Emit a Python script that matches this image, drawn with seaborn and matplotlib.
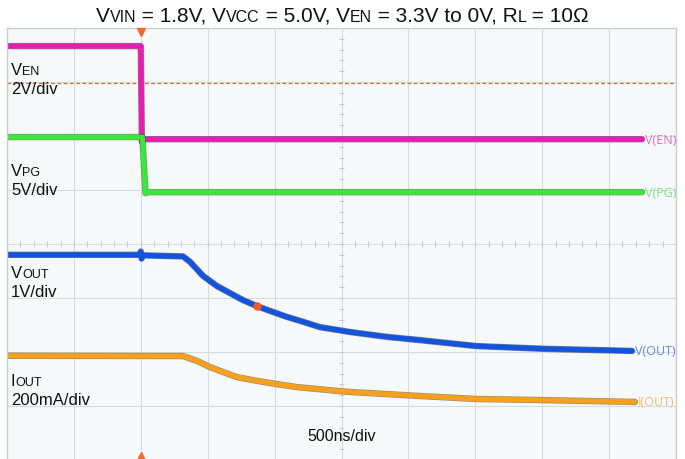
import numpy as np
import pandas as pd
import matplotlib
matplotlib.use('Agg')
import matplotlib.pyplot as plt
import matplotlib.patheffects as pe
from matplotlib.offsetbox import TextArea, HPacker, VPacker, AnnotationBbox
import seaborn as sns

# scope time base: 500 ns/div, trigger sits on the 2nd division
T_START, T_END, NS_PER_DIV = -1000, 4000, 500

# traces (time in ns)
ven_t = [-1000, 0, 8, 30, 3746]
ven_v = [3.45, 3.45, -0.1, 0.0, 0.0]

pg_t = [-1000, 12, 35, 50, 3746]
pg_v = [5.1, 5.1, -0.1, 0.0, 0.0]

vout_t = [-1000, -5, 0, 6, 16, 315, 368, 465, 570, 667, 764, 868, 966,
          1093, 1212, 1339, 1466, 1564, 1840, 2087, 2505, 3006, 3671]
vout_v = [1.83, 1.83, 1.89, 1.76, 1.82, 1.80, 1.70, 1.44, 1.25, 1.12, 0.99,
          0.88, 0.79, 0.68, 0.59, 0.49, 0.44, 0.40, 0.31, 0.25, 0.14, 0.09, 0.05]

iout_t = [-1000, 315, 420, 517, 614, 719, 868, 1018, 1167, 1317, 1466,
          1564, 2087, 2505, 3006, 3693]
iout_ma = [180, 179, 161, 138, 120, 101, 87, 75, 64, 57, 50, 46, 31, 20, 16, 9]

trigger_level_v = 2.1      # on V(EN)
cursor_t = 868             # marker on V(OUT)

# channel setup: units per division and ground position (divisions)
channels = {
    'V(EN)':  dict(t=ven_t, y=ven_v, per_div=2.0, ground=1.94,
                   color='#e21fae', edge='#6a0e55', label_color='#e070c8'),
    'V(PG)':  dict(t=pg_t, y=pg_v, per_div=5.0, ground=0.96,
                   color='#3ae83a', edge='#1a5c1a', label_color='#86e086'),
    'V(OUT)': dict(t=vout_t, y=vout_v, per_div=1.0, ground=-2.03,
                   color='#1454dc', edge='#0a2260', label_color='#6a88d8'),
    'I(OUT)': dict(t=iout_t, y=iout_ma, per_div=200.0, ground=-2.97,
                   color='#f6a11e', edge='#6a4410', label_color='#f0c070'),
}


def to_div(ch, values):
    return ch['ground'] + np.asarray(values, dtype=float) / ch['per_div']


sns.set_style('white')
plt.rcParams['font.family'] = ['Liberation Sans', 'DejaVu Sans']

fig = plt.figure(figsize=(6.85, 4.6), dpi=100)
ax = fig.add_axes([7 / 685, -1 / 460, 669 / 685, 432 / 460])
ax.set_facecolor('#f6f9f9')

ax.set_xlim(T_START, T_END)
ax.set_ylim(-4, 4)
ax.set_xticks(np.arange(T_START, T_END + 1, NS_PER_DIV))
ax.set_yticks(np.arange(-4, 5, 1))
ax.grid(True, color='#d6dbdb', linewidth=0.8)
ax.tick_params(length=0, labelbottom=False, labelleft=False)
for s in ax.spines.values():
    s.set_color('#c8cdcd')
    s.set_linewidth(1.0)

# little ticks on the centre cross
t_mid = (T_START + T_END) / 2
xt = np.arange(T_START, T_END + 1, NS_PER_DIV / 5)
ax.vlines(xt, -0.05, 0.05, color='#c8cdcd', linewidth=0.8)
yt = np.arange(-4, 4.01, 0.2)
ax.hlines(yt, t_mid - 20, t_mid + 20, color='#c8cdcd', linewidth=0.8)

# trigger level (dashed)
ven = channels['V(EN)']
ax.axhline(to_div(ven, trigger_level_v), color='#d8702a', linewidth=0.9,
           linestyle=(0, (3, 2)))

for name, ch in channels.items():
    df = pd.DataFrame({'t': ch['t'], 'div': to_div(ch, ch['y'])})
    sns.lineplot(data=df, x='t', y='div', ax=ax, color=ch['color'],
                 linewidth=3.6, estimator=None, sort=False,
                 path_effects=[pe.Stroke(linewidth=4.6, foreground=ch['edge'], alpha=0.6),
                               pe.Normal()])
    ax.annotate(name, xy=(ch['t'][-1], df['div'].iloc[-1]), xytext=(2, 0),
                textcoords='offset points', va='center', ha='left',
                fontsize=9, family='Open Sans', color=ch['label_color'])

# cursor dot and trigger arrows
vout = channels['V(OUT)']
ax.plot(cursor_t, to_div(vout, np.interp(cursor_t, vout_t, vout_v)), 'o',
        color='#f05a28', markersize=5, zorder=5)
ax.plot(0, 3.93, marker='v', color='#f06a30', markersize=6, clip_on=False, zorder=5)
ax.plot(0, -3.93, marker='^', color='#f06a30', markersize=6, clip_on=False, zorder=5)
ax.set_xlabel('')
ax.set_ylabel('')


def rich(pieces, big, small, color='#111111'):
    boxes = []
    for txt, is_sub in pieces:
        boxes.append(TextArea(txt, textprops=dict(fontsize=small if is_sub else big,
                                                  color=color, family='Liberation Sans')))
    return HPacker(children=boxes, align='baseline', pad=0, sep=0)


title = rich([('V', False), ('VIN', True), (' = 1.8V, V', False), ('VCC', True),
              (' = 5.0V, V', False), ('EN', True), (' = 3.3V to 0V, R', False),
              ('L', True), (' = 10Ω', False)], 15, 11.5)
ax.add_artist(AnnotationBbox(title, (0.5, 1 - 16 / 460), xycoords='figure fraction',
                             box_alignment=(0.5, 0.5), frameon=False, pad=0))

blocks = [('V', 'EN', '2V/div', 63), ('V', 'PG', '5V/div', 164),
          ('V', 'OUT', '1V/div', 266), ('I', 'OUT', '200mA/div', 374)]
for big, sub, scale, top in blocks:
    box = VPacker(children=[rich([(big, False), (sub, True)], 12, 9),
                            rich([(scale, False)], 12, 9)],
                  align='left', pad=0, sep=3)
    ax.add_artist(AnnotationBbox(box, (11 / 685, 1 - top / 460), xycoords='figure fraction',
                                 box_alignment=(0, 1), frameon=False, pad=0))

fig.text(342 / 685, 1 - 437 / 460, '500ns/div', ha='center', va='center',
         fontsize=11.5, color='#111111')

fig.savefig('out.png', dpi=100, facecolor='white')
